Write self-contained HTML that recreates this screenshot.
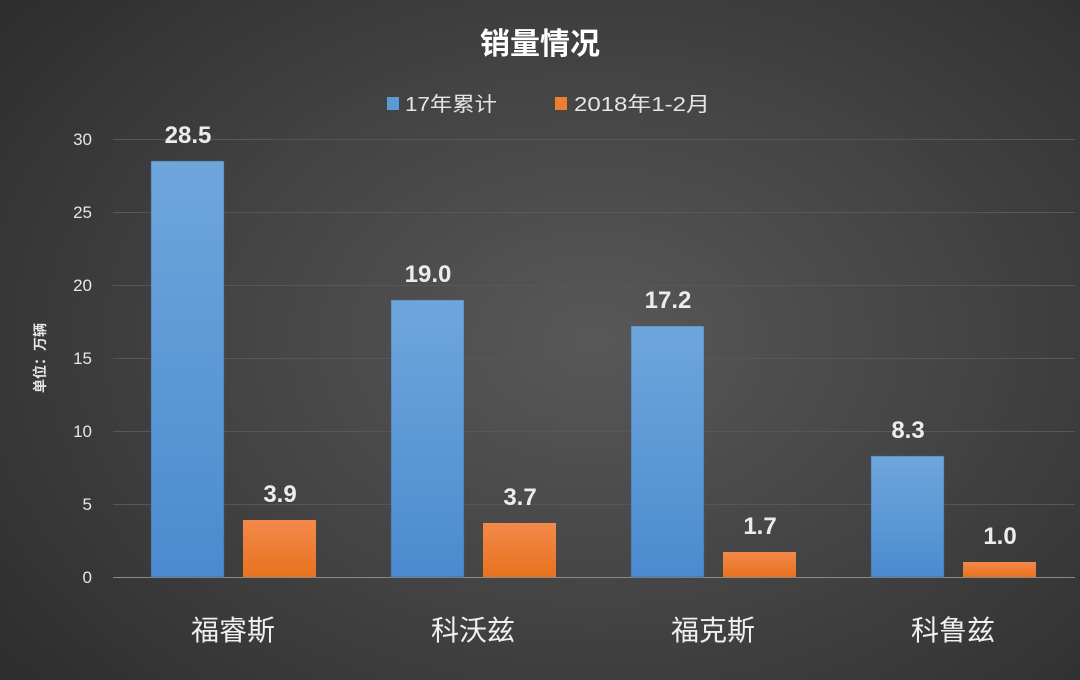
<!DOCTYPE html>
<html><head><meta charset="utf-8"><style>
html,body{margin:0;padding:0}
body{width:1080px;height:680px;overflow:hidden;background:radial-gradient(ellipse 75% 85% at 55% 50%,#585858 0%,#444 45%,#2a2a2a 100%);font-family:"Liberation Sans","Noto Sans CJK SC",sans-serif;}
</style></head><body>
<svg width="1080" height="680" xmlns="http://www.w3.org/2000/svg" style="position:absolute;left:0;top:0">
<defs>
<linearGradient id="b" x1="0" y1="0" x2="0" y2="1"><stop offset="0" stop-color="#6fa6dc"/><stop offset="1" stop-color="#4a8bcf"/></linearGradient>
<linearGradient id="o" x1="0" y1="0" x2="0" y2="1"><stop offset="0" stop-color="#f3894a"/><stop offset="1" stop-color="#e8721f"/></linearGradient>
</defs>
<g stroke="#575757" stroke-width="1">
<line x1="113" x2="1075" y1="139.5" y2="139.5"/><line x1="113" x2="1075" y1="212.5" y2="212.5"/>
<line x1="113" x2="1075" y1="285.5" y2="285.5"/><line x1="113" x2="1075" y1="358.5" y2="358.5"/>
<line x1="113" x2="1075" y1="431.5" y2="431.5"/><line x1="113" x2="1075" y1="504.5" y2="504.5"/>
</g>
<line x1="113" x2="1075" y1="577.5" y2="577.5" stroke="#8a8a8a"/>
<g font-size="17" fill="#e6e6e6" text-anchor="end">
<text x="92" y="145">30</text><text x="92" y="218">25</text><text x="92" y="291">20</text><text x="92" y="364">15</text><text x="92" y="437">10</text><text x="92" y="510">5</text><text x="92" y="583">0</text>
</g>
<text transform="translate(45,358) rotate(-90)" text-anchor="middle" font-size="14" font-weight="bold" fill="#e6e6e6">单位：万辆</text>
<text x="540" y="54" text-anchor="middle" font-size="30" font-weight="bold" fill="#fff">销量情况</text>
<rect x="387" y="97" width="12" height="13" fill="#5b9bd5"/>
<text x="405" y="111" font-size="20" fill="#e6e6e6" textLength="92" lengthAdjust="spacingAndGlyphs">17年累计</text>
<rect x="555" y="97" width="12" height="13" fill="#ed7d31"/>
<text x="574" y="111" font-size="20" fill="#e6e6e6" textLength="136" lengthAdjust="spacingAndGlyphs">2018年1-2月</text>
<g stroke="#3a5f88" stroke-width="0.5">
<rect x="151" y="161" width="73" height="416" fill="url(#b)"/>
<rect x="391" y="300" width="73" height="277" fill="url(#b)"/>
<rect x="631" y="326" width="73" height="251" fill="url(#b)"/>
<rect x="871" y="456" width="73" height="121" fill="url(#b)"/>
</g>
<g>
<rect x="243" y="520" width="73" height="57" fill="url(#o)"/>
<rect x="483" y="523" width="73" height="54" fill="url(#o)"/>
<rect x="723" y="552" width="73" height="25" fill="url(#o)"/>
<rect x="963" y="562" width="73" height="15" fill="url(#o)"/>
</g>
<g font-size="24" font-weight="bold" fill="#ececec" text-anchor="middle">
<text x="188" y="143">28.5</text><text x="428" y="282">19.0</text><text x="668" y="308">17.2</text><text x="908" y="438">8.3</text>
<text x="280" y="502">3.9</text><text x="520" y="505">3.7</text><text x="760" y="534">1.7</text><text x="1000" y="544">1.0</text>
</g>
<g font-size="28" fill="#f0f0f0" text-anchor="middle">
<text x="233" y="640">福睿斯</text><text x="473" y="640">科沃兹</text><text x="713" y="640">福克斯</text><text x="953" y="640">科鲁兹</text>
</g>
</svg>
</body></html>
